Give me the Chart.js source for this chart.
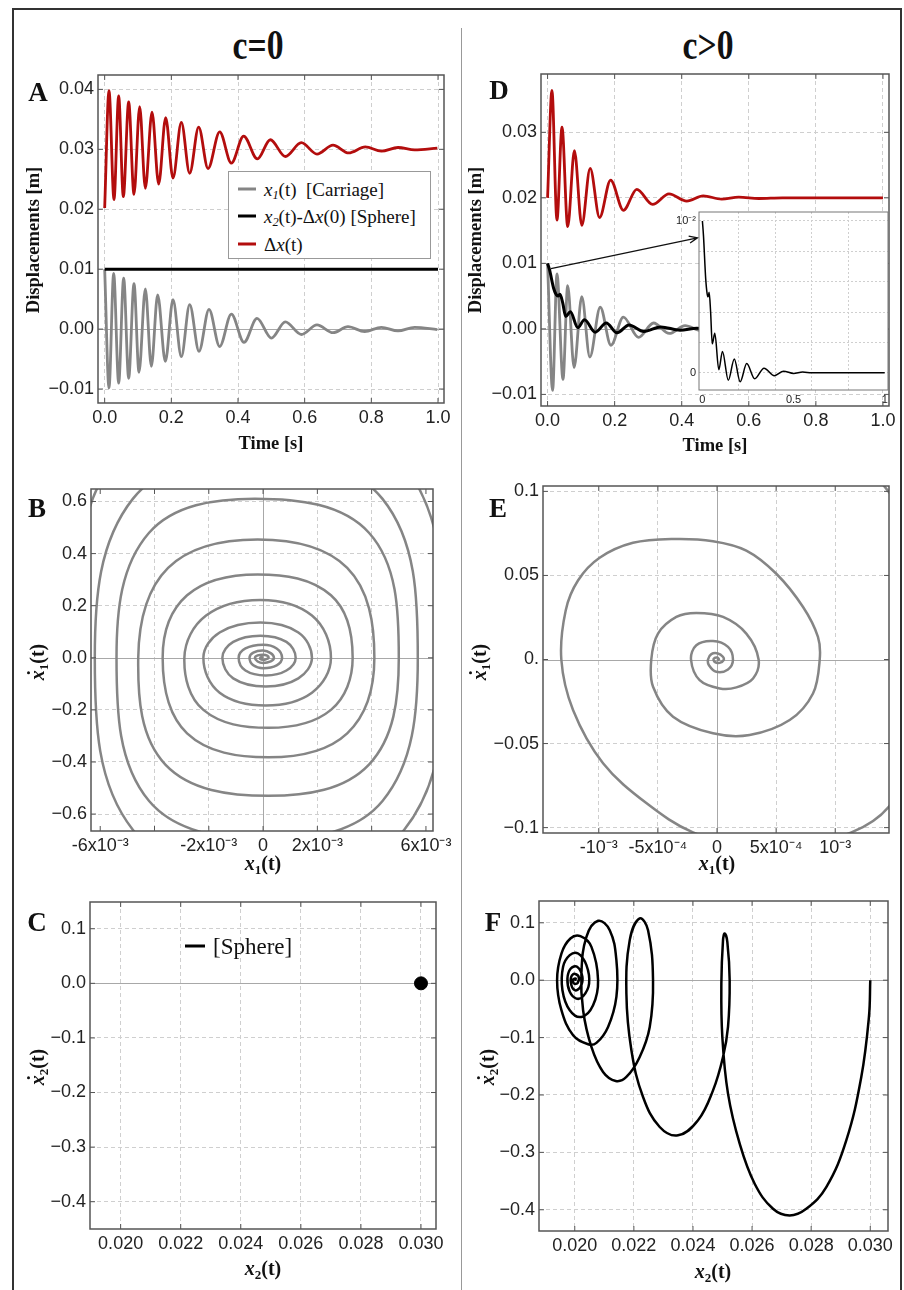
<!DOCTYPE html>
<html>
<head>
<meta charset="utf-8">
<title>Carriage and sphere response</title>
<script src="https://cdn.jsdelivr.net/npm/chart.js@4.4.1/dist/chart.umd.min.js"></script>
<style>
  html, body { margin: 0; padding: 0; background: #fff; }
  body { position: relative; width: 904px; height: 1290px; overflow: hidden; font-family: "Liberation Serif", serif; color: #111; }
  canvas { position: absolute; }
  .lbl { position: absolute; white-space: nowrap; line-height: 1; transform: translate(-50%, -50%); }
  .hdr { font-weight: bold; font-size: 42px; transform: translate(-50%, -50%) scaleX(0.8); }
  .letter { font-weight: bold; font-size: 27px; }
  .ttl { font-weight: bold; font-size: 18.5px; }
  .rot { transform: translate(-50%, -50%) rotate(-90deg); }
  .var { font-weight: bold; font-size: 20px; }
  sub { font-size: 0.65em; vertical-align: -0.3em; line-height: 0; }
  .dot { position: relative; }
  .dot::after { content: ""; position: absolute; left: 0.3em; top: 0.05em; width: 3px; height: 3px; border-radius: 50%; background: #111; }
  #frame { position: absolute; left: 12px; top: 8px; width: 890px; height: 1320px; border: 2px solid #333; box-sizing: border-box; }
  #divider { position: absolute; left: 461px; top: 28px; width: 1px; height: 1262px; background: #999; }
  .legend { position: absolute; background: #fff; border: 1px solid #999; box-sizing: border-box; font-size: 19px; }
  .row { position: absolute; left: 9px; display: flex; align-items: center; line-height: 1; transform: translateY(-50%); white-space: nowrap; }
  .swatch { display: inline-block; width: 18px; height: 3px; margin-right: 8px; }
</style>
</head>
<body>
<div id="frame"></div>
<div id="divider"></div>
<div class="lbl hdr" style="left:258px;top:45px">c=0</div>
<div class="lbl hdr" style="left:708px;top:45px">c&gt;0</div>

<div id="charts"></div>

<!-- panel letters -->
<div class="lbl letter" style="left:38px;top:92px">A</div>
<div class="lbl letter" style="left:499px;top:90px">D</div>
<div class="lbl letter" style="left:37px;top:508px">B</div>
<div class="lbl letter" style="left:498px;top:508px">E</div>
<div class="lbl letter" style="left:37px;top:922px">C</div>
<div class="lbl letter" style="left:493px;top:922px">F</div>

<!-- axis titles -->
<div class="lbl ttl rot" style="left:33px;top:240px">Displacements [m]</div>
<div class="lbl ttl" style="left:271px;top:443px">Time [s]</div>
<div class="lbl ttl rot" style="left:475px;top:240px">Displacements [m]</div>
<div class="lbl ttl" style="left:715px;top:445px">Time [s]</div>

<div class="lbl var" style="left:263px;top:863px"><i>x</i><sub>1</sub>(t)</div>
<div class="lbl var rot" style="left:37px;top:662px"><i class="dot">x</i><sub>1</sub>(t)</div>
<div class="lbl var" style="left:717px;top:863px"><i>x</i><sub>1</sub>(t)</div>
<div class="lbl var rot" style="left:479px;top:662px"><i class="dot">x</i><sub>1</sub>(t)</div>
<div class="lbl var" style="left:263px;top:1268px"><i>x</i><sub>2</sub>(t)</div>
<div class="lbl var rot" style="left:37px;top:1067px"><i class="dot">x</i><sub>2</sub>(t)</div>
<div class="lbl var" style="left:713px;top:1271px"><i>x</i><sub>2</sub>(t)</div>
<div class="lbl var rot" style="left:487px;top:1067px"><i class="dot">x</i><sub>2</sub>(t)</div>

<!-- legend of panel A -->
<div class="legend" style="left:228px;top:171px;width:203px;height:88px">
  <div class="row" style="top:16.7px"><span class="swatch" style="background:#858585"></span><span><i>x</i><sub><i>1</i></sub>(t)&nbsp; [Carriage]</span></div>
  <div class="row" style="top:44px"><span class="swatch" style="background:#000"></span><span><i>x</i><sub><i>2</i></sub>(t)-Δ<i>x</i>(0) [Sphere]</span></div>
  <div class="row" style="top:71.7px"><span class="swatch" style="background:#b30d0d"></span><span>Δ<i>x</i>(t)</span></div>
</div>
<!-- legend of panel C -->
<div class="row" style="left:185px;top:946px;font-size:23px"><span class="swatch" style="background:#000;width:20px;margin-right:8px"></span><span>[Sphere]</span></div>

<script>
// ---------- panel A (c = 0): displacements against time ----------
const tCarriageA = [0, 0.013, 0.027, 0.042, 0.057, 0.072, 0.088, 0.103, 0.122, 0.140, 0.159, 0.182, 0.205, 0.230, 0.255, 0.283,
  0.313, 0.345, 0.380, 0.418, 0.457, 0.500, 0.542, 0.590, 0.637, 0.685, 0.730, 0.780, 0.830, 0.880, 0.930, 0.998];
const carriageA = [0.0100, -0.0098, 0.0093, -0.0090, 0.0085, -0.0082, 0.0076, -0.0072, 0.0067, -0.0062, 0.0057, -0.0054, 0.0049, -0.0046, 0.0041, -0.0037,
  0.0033, -0.0029, 0.0025, -0.0022, 0.0018, -0.0015, 0.0012, -0.0009, 0.0007, -0.0006, 0.0004, -0.0004, 0.0003, -0.0003, 0.0003, -0.0001];
const tGapA = [0, 0.013, 0.028, 0.042, 0.056, 0.072, 0.088, 0.105, 0.122, 0.142, 0.162, 0.183, 0.205, 0.230, 0.255, 0.282,
  0.310, 0.345, 0.380, 0.417, 0.458, 0.497, 0.542, 0.590, 0.637, 0.685, 0.732, 0.782, 0.830, 0.880, 0.930, 0.998];
const gapA = [0.0202, 0.0398, 0.0216, 0.0389, 0.0221, 0.0379, 0.0225, 0.0371, 0.0235, 0.0362, 0.0242, 0.0353, 0.0252, 0.0345, 0.0260, 0.0337,
  0.0268, 0.0329, 0.0277, 0.0322, 0.0284, 0.0316, 0.0288, 0.0311, 0.0292, 0.0307, 0.0294, 0.0304, 0.0297, 0.0303, 0.0299, 0.0302];
const tSphereA = [0, 1];
const sphereA = [0.01, 0.01];

// ---------- panel D (c > 0) ----------
const tGapD = [0, 0.013, 0.028, 0.043, 0.060, 0.080, 0.102, 0.127, 0.155, 0.188, 0.226, 0.266, 0.313, 0.362, 0.415, 0.464, 0.519, 0.570, 0.630, 0.700, 1.0];
const gapD = [0.0200, 0.0364, 0.0166, 0.0308, 0.0156, 0.0272, 0.0158, 0.0245, 0.0170, 0.0227, 0.0181, 0.0213, 0.0190, 0.0206, 0.0195, 0.0203, 0.0198, 0.0201, 0.0199, 0.0200, 0.0200];
const tCarriageD = [0, 0.015, 0.028, 0.046, 0.060, 0.079, 0.102, 0.126, 0.157, 0.189, 0.226, 0.271, 0.316, 0.363, 0.410, 0.460, 0.510, 0.560, 0.620, 0.700, 1.0];
const carriageD = [0.0100, -0.0094, 0.0084, -0.0077, 0.0066, -0.0059, 0.0049, -0.0043, 0.0033, -0.0025, 0.0018, -0.0013, 0.0009, -0.0007, 0.0005, -0.0003, 0.0002, -0.0001, 0.0001, 0, 0];
const tSphereD = [0, 0.006, 0.018, 0.026, 0.031, 0.037, 0.045, 0.054, 0.068, 0.090, 0.110, 0.142, 0.175, 0.207, 0.243, 0.287, 0.338, 0.395, 0.445, 0.500, 0.550, 0.600, 1.0];
const sphereD = [0.0100, 0.0090, 0.0062, 0.0052, 0.0050, 0.0053, 0.0040, 0.0019, 0.0026, 0.0002, 0.0014, -0.0005, 0.0009, -0.0006, 0.0006, -0.0004, 0.0003, -0.0002, 0.0001, -0.00005, 0.00004, 0, 0];
const arrowFrom = [0.01, 0.0092];
const arrowTo = [0.447, 0.0139];

// ---------- panel B: carriage phase portrait, c = 0 ----------
const x1B = [
  -0.0072, -0.0056, -0.0003, 0.0052, 0.0067, 0.0052, 0.0002, -0.0048,
  -0.0062, -0.0048, -0.0003, 0.0044, 0.0057, 0.0044, 0.0002, -0.0042,
  -0.0054, -0.0042, -0.0003, 0.0039, 0.0050, 0.0039, 0.0002, -0.0036,
  -0.0046, -0.0035, -0.0002, 0.0031, 0.0041, 0.0031, 0.0002, -0.0028,
  -0.0037, -0.0028, -0.0002, 0.0025, 0.0033, 0.0025, 0.0002, -0.0022,
  -0.0029, -0.0021, -0.0001, 0.0018, 0.0025, 0.0018, 0.0001, -0.0016,
  -0.0022, -0.0016, -0.0001, 0.0013, 0.0018, 0.0013, 0.0001, -0.0011,
  -0.0015, -0.0011, -0.0001, 0.00086, 0.0012, 0.00086, 0.0001, -0.00065,
  -0.0009, -0.00065, 0, 0.0005, 0.0007, 0.0005, 0, -0.00036,
  -0.0005, -0.00036, 0, 0.00028, 0.0004, 0.00028, 0, -0.0002,
  -0.0003, -0.0002, 0, 0.00015, 0.0002, 0.0001, 0, -0.0001,
  -0.0001, 0];
const v1B = [
  0, 0.74, 0.95, 0.74, 0, -0.66, -0.85, -0.66,
  0, 0.61, 0.78, 0.61, 0, -0.55, -0.70, -0.55,
  0, 0.48, 0.611, 0.48, 0, -0.41, -0.53, -0.41,
  0, 0.345, 0.454, 0.345, 0, -0.29, -0.382, -0.29,
  0, 0.24, 0.32, 0.24, 0, -0.20, -0.269, -0.20,
  0, 0.162, 0.222, 0.162, 0, -0.134, -0.183, -0.134,
  0, 0.097, 0.135, 0.097, 0, -0.079, -0.11, -0.079,
  0, 0.061, 0.085, 0.061, 0, -0.049, -0.068, -0.049,
  0, 0.036, 0.05, 0.036, 0, -0.029, -0.04, -0.029,
  0, 0.02, 0.028, 0.018, 0, -0.014, -0.02, -0.014,
  0, 0.009, 0.012, 0.008, 0, -0.006, -0.008, -0.005,
  0, 0.003];

// ---------- panel E: carriage phase portrait, c > 0 ----------
const x1E = [
  -2.5e-3, -2.1e-3, -0.7e-3, 0.6e-3, 1.45e-3, 1.85e-3, 1.9e-3, 1.75e-3, 1.455e-3, 1.137e-3, 0.45e-3, -0.203e-3,
  -0.598e-3, -0.964e-3, -1.218e-3, -1.317e-3, -1.28e-3, -1.176e-3, -0.993e-3, -0.711e-3, -0.372e-3, -0.034e-3, 0.248e-3, 0.502e-3,
  0.728e-3, 0.854e-3, 0.869e-3, 0.812e-3, 0.615e-3, 0.276e-3, -0.034e-3, -0.372e-3, -0.541e-3, -0.556e-3, -0.499e-3, -0.344e-3,
  -0.175e-3, 0.051e-3, 0.248e-3, 0.352e-3, 0.305e-3, 0.164e-3, 0.023e-3, -0.147e-3, -0.22e-3, -0.175e-3, -0.034e-3, 0.093e-3,
  0.135e-3, 0.093e-3, -0.006e-3, -0.068e-3, -0.076e-3, -0.048e-3, 0.008e-3, 0.05e-3, 0.056e-3, 0.023e-3, -0.02e-3, -0.028e-3,
  0, 0.017e-3, 0];
const v1E = [
  0, 0.12, 0.17, 0.15, 0.10, 0.04, 0, -0.05, -0.0874, -0.1028, -0.116, -0.1028,
  -0.0854, -0.0617, -0.030, 0, 0.0292, 0.047, 0.0605, 0.0694, 0.0717, 0.0704, 0.0648, 0.051,
  0.0312, 0.0134, 0, -0.0202, -0.036, -0.0449, -0.0439, -0.034, -0.0162, 0, 0.0154, 0.0253,
  0.0277, 0.0253, 0.0154, 0, -0.0113, -0.0166, -0.0172, -0.0123, 0, 0.0085, 0.011, 0.0075,
  0, -0.0059, -0.0073, -0.0034, 0, 0.0032, 0.0036, 0.0016, -0.0004, -0.002, -0.0014, 0.0004,
  0.0012, 0, -0.0004];

// ---------- panel C: sphere phase point, c = 0 ----------
const x2C = [0.030];
const v2C = [0];

// ---------- panel F: sphere phase portrait, c > 0 ----------
const x2F = [
  0.03000, 0.029955, 0.029696, 0.029188, 0.028512, 0.027835, 0.027272, 0.026708, 0.026088, 0.025581,
  0.025186, 0.024994, 0.024961, 0.025017, 0.025073, 0.025163, 0.025242, 0.025186, 0.025017, 0.024679,
  0.024171, 0.023495, 0.022875, 0.022311, 0.021917, 0.021747, 0.021860, 0.022198, 0.022480, 0.022649,
  0.022537, 0.022198, 0.021747, 0.021387, 0.020958, 0.020564, 0.020282, 0.020225, 0.020395, 0.020789,
  0.021184, 0.021409, 0.021409, 0.021127, 0.020733, 0.020451, 0.019944, 0.019549, 0.019402, 0.019549,
  0.019853, 0.020192, 0.020564, 0.020789, 0.020620, 0.020225, 0.019831, 0.019583, 0.019605, 0.019831,
  0.020113, 0.020395, 0.020485, 0.020282, 0.020056, 0.019831, 0.019752, 0.019865, 0.020079, 0.020259,
  0.020192, 0.020000, 0.019865, 0.019944, 0.020124, 0.020101, 0.019977, 0.019944, 0.020034, 0.020011];
const v2F = [
  0, -0.0640, -0.1686, -0.2791, -0.3605, -0.3983, -0.4099, -0.3983, -0.3547, -0.2849,
  -0.1977, -0.0988, -0.0058, 0.0698, 0.0814, 0.0669, 0, -0.0814, -0.1337, -0.1919,
  -0.2442, -0.2703, -0.2558, -0.2035, -0.1221, -0.0233, 0.0698, 0.1076, 0.0872, 0,
  -0.0814, -0.1337, -0.1686, -0.1756, -0.1599, -0.1163, -0.0523, 0.0116, 0.0756, 0.1035,
  0.0872, 0.0349, -0.0291, -0.0814, -0.1093, -0.1116, -0.0959, -0.0523, 0, 0.0465,
  0.0727, 0.0767, 0.0581, 0, -0.0436, -0.0640, -0.0523, -0.0174, 0.0233, 0.0436,
  0.0465, 0.0262, -0.0058, -0.0279, -0.0320, -0.0203, 0.0029, 0.0203, 0.0233, 0.0058,
  -0.0116, -0.0174, -0.0029, 0.0105, 0.0070, -0.0047, -0.0058, 0.0012, 0.0029, -0.0012];

// ---------- ticks ----------
const timeTicks = [0, 0.2, 0.4, 0.6, 0.8, 1.0];
const timeLabels = ['0.0', '0.2', '0.4', '0.6', '0.8', '1.0'];
const dispTicksA = [-0.01, 0, 0.01, 0.02, 0.03, 0.04];
const dispLabelsA = ['\u22120.01', '0.00', '0.01', '0.02', '0.03', '0.04'];
const dispTicksD = [-0.01, 0, 0.01, 0.02, 0.03];
const dispLabelsD = ['\u22120.01', '0.00', '0.01', '0.02', '0.03'];
const insetTimeTicks = [0, 0.2, 0.4, 0.5, 0.6, 0.8, 1];
const insetTimeLabels = ['0', '', '', '0.5', '', '', '1'];
const insetDispTicks = [0, 0.002, 0.004, 0.006, 0.008, 0.01];
const insetDispLabels = ['0', '', '', '', '', '10\u207B\u00B2'];
const x1TicksB = [-0.006, -0.004, -0.002, 0, 0.002, 0.004, 0.006];
const x1LabelsB = ['-6x10\u207B\u00B3', '', '-2x10\u207B\u00B3', '0', '2x10\u207B\u00B3', '', '6x10\u207B\u00B3'];
const v1TicksB = [-0.6, -0.4, -0.2, 0, 0.2, 0.4, 0.6];
const v1LabelsB = ['\u22120.6', '\u22120.4', '\u22120.2', '0.0', '0.2', '0.4', '0.6'];
const x1TicksE = [-0.001, -0.0005, 0, 0.0005, 0.001];
const x1LabelsE = ['-10\u207B\u00B3', '-5x10\u207B\u2074', '0', '5x10\u207B\u2074', '10\u207B\u00B3'];
const v1TicksE = [-0.1, -0.05, 0, 0.05, 0.1];
const v1LabelsE = ['\u22120.1', '\u22120.05', '0.', '0.05', '0.1'];
const x2Ticks = [0.020, 0.022, 0.024, 0.026, 0.028, 0.030];
const x2Labels = ['0.020', '0.022', '0.024', '0.026', '0.028', '0.030'];
const v2Ticks = [-0.4, -0.3, -0.2, -0.1, 0, 0.1];
const v2Labels = ['\u22120.4', '\u22120.3', '\u22120.2', '\u22120.1', '0.0', '0.1'];

const GRAY = '#858585', RED = '#b30d0d', BLACK = '#000';

Chart.defaults.font.family = 'Liberation Sans';

const pts = (xs, ys) => xs.map((x, i) => ({ x, y: ys[i] }));
const curve = (data, color, width, extra) =>
  Object.assign({ data, borderColor: color, borderWidth: width, pointRadius: 0, fill: false, clip: 0 }, extra);
const smooth = { cubicInterpolationMode: 'monotone' };

// frame, zero lines and inward ticks drawn like the original figure
const framePlugin = {
  id: 'frame',
  beforeDraw(chart, args, o) {
    if (!o.fill) return;
    const { ctx, chartArea: a } = chart;
    ctx.save();
    ctx.fillStyle = o.fill;
    ctx.fillRect(a.left, a.top, a.width, a.height);
    ctx.restore();
  },
  beforeDatasetsDraw(chart, args, o) {
    const { ctx, chartArea: a, scales: { x, y } } = chart;
    ctx.save();
    ctx.strokeStyle = '#a8a8a8';
    ctx.lineWidth = 1;
    ctx.beginPath();
    if (o.zeroY) {
      const py = Math.round(y.getPixelForValue(0)) + 0.5;
      ctx.moveTo(a.left, py); ctx.lineTo(a.right, py);
    }
    if (o.zeroX) {
      const px = Math.round(x.getPixelForValue(0)) + 0.5;
      ctx.moveTo(px, a.top); ctx.lineTo(px, a.bottom);
    }
    ctx.stroke();
    ctx.restore();
  },
  afterDraw(chart, args, o) {
    const { ctx, chartArea: a, scales: { x, y } } = chart;
    ctx.save();
    ctx.strokeStyle = o.color || '#555';
    ctx.lineWidth = o.width || 1.5;
    ctx.strokeRect(a.left, a.top, a.width, a.height);
    if (o.tick) {
      ctx.beginPath();
      x.ticks.forEach(t => {
        const px = x.getPixelForValue(t.value);
        if (px <= a.left + 1 || px >= a.right - 1) return;
        ctx.moveTo(px, a.bottom); ctx.lineTo(px, a.bottom - o.tick);
        ctx.moveTo(px, a.top); ctx.lineTo(px, a.top + o.tick);
      });
      y.ticks.forEach(t => {
        const py = y.getPixelForValue(t.value);
        if (py <= a.top + 1 || py >= a.bottom - 1) return;
        ctx.moveTo(a.left, py); ctx.lineTo(a.left + o.tick, py);
        ctx.moveTo(a.right, py); ctx.lineTo(a.right - o.tick, py);
      });
      ctx.lineWidth = 1;
      ctx.stroke();
    }
    ctx.restore();
  }
};
Chart.register(framePlugin);

// arrow from the sphere curve to the zoomed inset
const arrowPlugin = {
  id: 'arrowD',
  afterDatasetsDraw(chart) {
    const { ctx, scales: { x, y } } = chart;
    const x0 = x.getPixelForValue(arrowFrom[0]), y0 = y.getPixelForValue(arrowFrom[1]);
    const x1 = x.getPixelForValue(arrowTo[0]), y1 = y.getPixelForValue(arrowTo[1]);
    const ang = Math.atan2(y1 - y0, x1 - x0), h = 9;
    ctx.save();
    ctx.strokeStyle = '#111';
    ctx.lineWidth = 1.3;
    ctx.beginPath();
    ctx.moveTo(x0, y0); ctx.lineTo(x1, y1);
    ctx.moveTo(x1 - h * Math.cos(ang - 0.4), y1 - h * Math.sin(ang - 0.4));
    ctx.lineTo(x1, y1);
    ctx.lineTo(x1 - h * Math.cos(ang + 0.4), y1 - h * Math.sin(ang + 0.4));
    ctx.stroke();
    ctx.restore();
  }
};

// f = plot frame in page pixels
function makePanel(f, s) {
  const small = !!s.small;
  const pad = small ? { left: 0, top: 8, right: 4, bottom: 0 } : { left: 0, top: 15, right: 28, bottom: 0 };
  const yw = small ? 32 : 95, xh = small ? 16 : 35;
  const cv = document.createElement('canvas');
  cv.width = f.r - f.l + yw + pad.right;
  cv.height = f.b - f.t + pad.top + xh;
  cv.style.left = (f.l - yw) + 'px';
  cv.style.top = (f.t - pad.top) + 'px';
  document.getElementById('charts').appendChild(cv);

  const scale = (a, fit) => ({
    type: 'linear', min: a.min, max: a.max,
    afterBuildTicks: sc => { sc.ticks = a.ticks.map(v => ({ value: v })); },
    afterFit: fit,
    ticks: {
      autoSkip: false, maxRotation: 0, minRotation: 0, padding: small ? 3 : 4, color: '#222',
      font: { size: small ? 11 : 18 }, callback: (v, i) => a.labels[i]
    },
    grid: {
      drawTicks: false, lineWidth: 1,
      color: c => (c.tick && a.noGrid && a.noGrid.includes(c.tick.value)) ? 'rgba(0,0,0,0)' : '#cfcfcf'
    },
    border: { display: false, dash: small ? [2, 2] : [4, 3] }
  });

  return new Chart(cv, {
    type: 'line',
    data: { datasets: s.datasets },
    options: {
      responsive: false, animation: false, events: [],
      layout: { padding: pad },
      scales: {
        x: scale(s.x, sc => { sc.height = xh; sc.paddingLeft = 0; sc.paddingRight = 0; }),
        y: scale(s.y, sc => { sc.width = yw; sc.paddingTop = 0; sc.paddingBottom = 0; })
      },
      plugins: {
        legend: { display: false }, tooltip: { enabled: false },
        frame: { zeroX: s.zeroX, zeroY: s.zeroY, fill: s.fill, tick: small ? 0 : 5, color: small ? '#777' : '#555', width: small ? 1 : 1.5 }
      }
    },
    plugins: s.plugins || []
  });
}

// A
makePanel({ l: 98, r: 444, t: 75, b: 403 }, {
  x: { min: -0.02, max: 1.018, ticks: timeTicks, labels: timeLabels },
  y: { min: -0.01233, max: 0.0424, ticks: dispTicksA, labels: dispLabelsA, noGrid: [0] },
  zeroY: true,
  datasets: [
    curve(pts(tSphereA, sphereA), BLACK, 3, { order: 0 }),
    curve(pts(tGapA, gapA), RED, 2.8, Object.assign({ order: 1 }, smooth)),
    curve(pts(tCarriageA, carriageA), GRAY, 2.8, Object.assign({ order: 2 }, smooth))
  ]
});

// D
makePanel({ l: 541, r: 889, t: 74, b: 406 }, {
  x: { min: -0.0196, max: 1.018, ticks: timeTicks, labels: timeLabels },
  y: { min: -0.01177, max: 0.0389, ticks: dispTicksD, labels: dispLabelsD, noGrid: [0] },
  zeroY: true,
  plugins: [arrowPlugin],
  datasets: [
    curve(pts(tSphereD, sphereD), BLACK, 3, Object.assign({ order: 0 }, smooth)),
    curve(pts(tGapD, gapD), RED, 2.8, Object.assign({ order: 1 }, smooth)),
    curve(pts(tCarriageD, carriageD), GRAY, 2.8, Object.assign({ order: 2 }, smooth))
  ]
});

// D inset
makePanel({ l: 699, r: 888, t: 212, b: 390 }, {
  small: true, fill: '#fff',
  x: { min: -0.0187, max: 1.018, ticks: insetTimeTicks, labels: insetTimeLabels, noGrid: [0, 0.5, 1] },
  y: { min: -0.00114, max: 0.01059, ticks: insetDispTicks, labels: insetDispLabels },
  datasets: [curve(pts(tSphereD, sphereD), BLACK, 1.5, smooth)]
});

// B
makePanel({ l: 91, r: 433, t: 489, b: 831 }, {
  x: { min: -0.00634, max: 0.00626, ticks: x1TicksB, labels: x1LabelsB, noGrid: [0, -0.006, 0.006] },
  y: { min: -0.665, max: 0.648, ticks: v1TicksB, labels: v1LabelsB, noGrid: [0] },
  zeroX: true, zeroY: true,
  datasets: [curve(pts(x1B, v1B), GRAY, 2.5, { tension: 0.38 })]
});

// E
makePanel({ l: 543, r: 889, t: 486, b: 833 }, {
  x: { min: -0.001472, max: 0.001455, ticks: x1TicksE, labels: x1LabelsE, noGrid: [0] },
  y: { min: -0.1032, max: 0.1032, ticks: v1TicksE, labels: v1LabelsE, noGrid: [0] },
  zeroX: true, zeroY: true,
  datasets: [curve(pts(x1E, v1E), GRAY, 2.5, { tension: 0.35 })]
});

// C
makePanel({ l: 90, r: 436, t: 902, b: 1229 }, {
  x: { min: 0.01898, max: 0.0305, ticks: x2Ticks, labels: x2Labels },
  y: { min: -0.45, max: 0.149, ticks: v2Ticks, labels: v2Labels, noGrid: [0] },
  zeroY: true,
  datasets: [{ data: pts(x2C, v2C), showLine: false, pointRadius: 6.5, pointBackgroundColor: BLACK, pointBorderColor: BLACK, clip: false }]
});

// F
makePanel({ l: 539, r: 888, t: 901, b: 1231 }, {
  x: { min: 0.01879, max: 0.0306, ticks: x2Ticks, labels: x2Labels },
  y: { min: -0.437, max: 0.138, ticks: v2Ticks, labels: v2Labels, noGrid: [0] },
  zeroY: true,
  datasets: [curve(pts(x2F, v2F), BLACK, 2.5, { tension: 0.4 })]
});
</script>
</body>
</html>
